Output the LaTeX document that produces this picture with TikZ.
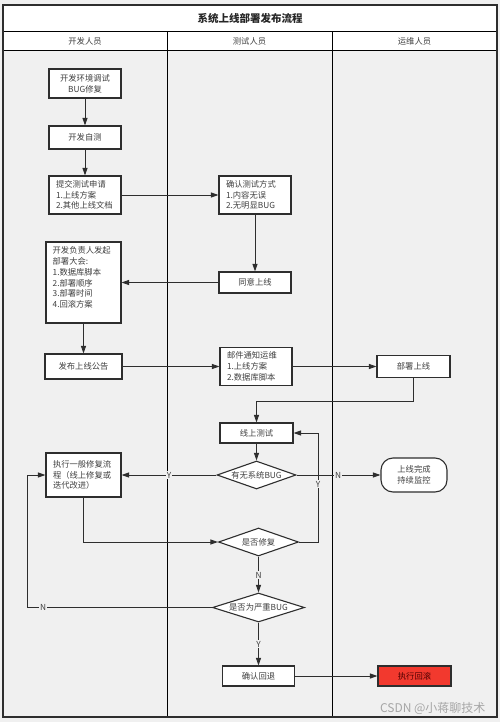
\documentclass[tikz,border=0pt]{standalone}
\usepackage{fontspec}
\setmainfont{Noto Sans CJK SC}
\usetikzlibrary{arrows.meta,shapes.geometric,calc}
\definecolor{lane}{HTML}{F0F0F0}
\definecolor{ink}{HTML}{2E2E2E}
\definecolor{txt}{HTML}{404040}
\definecolor{redbox}{HTML}{F2392E}
\begin{document}
\begin{tikzpicture}[x=1pt,y=-1pt,
  font=\fontsize{8.3}{10.8}\selectfont, text=txt,
  box/.style={draw=ink,line width=1.1pt,fill=white,inner sep=0pt,align=center},
  lbox/.style={draw=ink,line width=1.1pt,fill=white,inner xsep=7pt,inner ysep=0pt,align=left},
  dia/.style={draw=ink,line width=1.1pt,fill=white,diamond,aspect=3,inner sep=0pt},
  conn/.style={draw=ink,line width=0.9pt},
  arr/.style={conn,-{Triangle[length=7.5pt,width=5pt]}},
  lab/.style={fill=lane,inner sep=1.2pt,text=txt}
]
% background and frame
\useasboundingbox (0,0) rectangle (500,722);
\fill[lane] (0,0) rectangle (500,722);
\fill[white] (3,5) rectangle (497,51);
\draw[black,line width=1pt] (3,32) -- (497,32);
\draw[black,line width=1pt] (3,51) -- (497,51);
\draw[black,line width=1pt] (167,32) -- (167,717);
\draw[black,line width=1pt] (332,32) -- (332,717);
\draw[ink,line width=1.6pt] (3,5) rectangle (497,717);
\node[font=\fontsize{10.5}{12}\selectfont\bfseries,text=black!85] (title) at (250,18.5) {系统上线部署发布流程};
\node (h1) at (85,41.5) {开发人员};
\node (h2) at (249.5,41.5) {测试人员};
\node (h3) at (414.5,41.5) {运维人员};

% nodes
\node[box,minimum width=72pt,minimum height=29pt] (dev1) at (85,83.5) {开发环境调试\\BUG修复};
\node[box,minimum width=72pt,minimum height=23pt] (dev2) at (85,137.5) {开发自测};
\node[lbox,text width=58pt,minimum height=38pt] (dev3) at (85,195) {提交测试申请\\1.上线方案\\2.其他上线文档};
\node[lbox,text width=58pt,minimum height=38pt] (test1) at (255,195) {确认测试方式\\1.内容无误\\2.无明显BUG};
\node[box,minimum width=72pt,minimum height=21pt] (test2) at (255,282.5) {同意上线};
\node[box,minimum width=75pt,minimum height=81pt] (lead) at (83.5,282.5) {};
\node[anchor=north west,align=left,inner sep=0pt] (leadtxt) at ($(lead.north west)+(7,5)$) {开发负责人发起\\部署大会:\\1.数据库脚本\\2.部署顺序\\3.部署时间\\4.回滚方案};
\node[box,minimum width=77pt,minimum height=25pt] (pub) at (83.5,366.5) {发布上线公告};
\node[lbox,text width=58pt,minimum height=38pt] (mail) at (256,366.5) {邮件通知运维\\1.上线方案\\2.数据库脚本};
\node[box,minimum width=73pt,minimum height=22pt] (deploy) at (413.5,366.5) {部署上线};
\node[box,minimum width=73pt,minimum height=20pt] (otest) at (256.5,433) {线上测试};
\node[dia,minimum width=79pt,minimum height=28pt] (bug) at (256.5,475) {有无系统BUG};
\node[lbox,text width=61pt,minimum height=44pt] (fix) at (83.5,475) {执行一般修复流\\程（线上修复或\\迭代改进）};
\node[box,rounded corners=12pt,minimum width=66pt,minimum height=34pt] (done) at (414,475) {上线完成\\持续监控};
\node[dia,minimum width=80pt,minimum height=28pt] (repair) at (258.5,542) {是否修复};
\node[dia,minimum width=92pt,minimum height=29pt] (severe) at (258.5,607.5) {是否为严重BUG};
\node[box,minimum width=72pt,minimum height=20pt] (rollback) at (258.5,676) {确认回退};
\node[box,fill=redbox,text=black!70!red,minimum width=73pt,minimum height=20pt] (exec) at (414.5,676) {执行回滚};

% connectors
\draw[arr] (dev1) -- (dev2);
\draw[arr] (dev2) -- (dev3);
\draw[arr] (dev3) -- (test1);
\draw[arr] (test1) -- (test2);
\draw[arr] (test2) -- (lead);
\draw[arr] (lead) -- (pub);
\draw[arr] (pub) -- (mail);
\draw[arr] (mail) -- (deploy);
\coordinate (j1) at (413.5,401);
\draw[arr] (deploy.south) -- (j1) -| (otest.north);
\draw[arr] (otest) -- (bug);
\draw[arr] (bug.west) -- (fix.east);
\node[lab] (ly1) at (169,475) {Y};
\draw[arr] (bug.east) -- (done.west);
\node[lab] (ln1) at (338,475) {N};
\draw[arr] (fix.south) |- (repair.west);
\coordinate (j2) at (318,433);
\draw[arr] (repair.east) -| (j2) -- (otest.east);
\node[lab] (ly2) at (318,484) {Y};
\draw[arr] (repair.south) -- (severe.north);
\node[lab] (ln2) at (258.5,575) {N};
\coordinate (j3) at (27,475);
\draw[arr] (severe.west) -| (j3) -- (fix.west);
\node[lab] (ln3) at (43,607.5) {N};
\draw[arr] (severe.south) -- (rollback.north);
\node[lab] (ly3) at (258.5,644) {Y};
\draw[arr] (rollback) -- (exec);

% watermark
\node[anchor=east,font=\fontsize{12}{14}\selectfont,text=black!35] (wm) at (489,708) {CSDN @小蒋聊技术};
\end{tikzpicture}
\end{document}
